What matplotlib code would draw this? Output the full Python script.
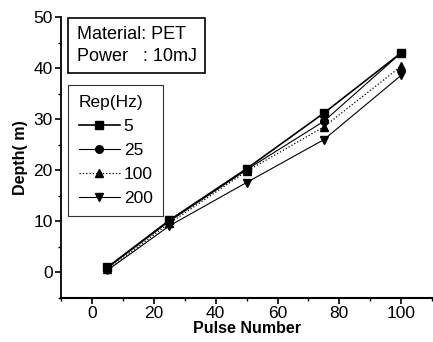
import matplotlib
matplotlib.use("Agg")
import matplotlib.pyplot as plt
from matplotlib.ticker import MultipleLocator

plt.rcParams['font.family'] = ['Liberation Sans', 'DejaVu Sans']

pulses = [5, 25, 50, 75, 100]
rep_labels = ["5", "25", "100", "200"]
depth_5 = [1.0, 10.2, 20.3, 31.2, 43.0]
depth_25 = [0.9, 10.0, 20.1, 29.6, 43.0]
depth_100 = [0.6, 9.6, 19.8, 28.5, 40.4]
depth_200 = [0.4, 9.1, 17.6, 26.0, 38.6]

series = [depth_5, depth_25, depth_100, depth_200]
markers = ["s", "o", "^", "v"]
styles = ["-", "-", ":", "-"]
widths = [1.2, 0.8, 0.9, 0.8]

fig = plt.figure(figsize=(4.33, 3.42), dpi=100)
ax = fig.add_axes([0.141, 0.129, 0.857, 0.821])

for vals, lab, m, ls, lw in zip(series, rep_labels, markers, styles, widths):
    ax.plot(pulses, vals, color="black", marker=m, markersize=5.5,
            linestyle=ls, linewidth=lw, label=lab)

ax.set_xlim(-10, 110)
ax.set_ylim(-5, 50)
ax.xaxis.set_major_locator(MultipleLocator(20))
ax.xaxis.set_minor_locator(MultipleLocator(10))
ax.yaxis.set_major_locator(MultipleLocator(10))
ax.yaxis.set_minor_locator(MultipleLocator(5))

ax.spines['top'].set_visible(False)
ax.spines['right'].set_visible(False)
ax.spines['left'].set_linewidth(1.3)
ax.spines['bottom'].set_linewidth(1.5)
ax.tick_params(which='major', direction='out', length=4, width=1.2,
               labelsize=12.5, pad=2)
ax.tick_params(which='minor', direction='out', length=2, width=1)

ax.set_xlabel("Pulse Number", fontweight="bold", fontsize=11.5, labelpad=0)
ax.set_ylabel("Depth( m)", fontweight="bold", fontsize=11.5, labelpad=4)

ax.text(-5, 48.2, "Material: PET\nPower   : 10mJ", fontsize=13,
        va="top", ha="left", linespacing=1.35,
        bbox=dict(boxstyle="square,pad=0.45", facecolor="white",
                  edgecolor="black", linewidth=1.2))

leg = ax.legend(title="Rep(Hz)", loc="upper left", bbox_to_anchor=(0.019, 0.758),
                fontsize=12.5, title_fontsize=12.5, frameon=True, fancybox=False,
                edgecolor="black", handlelength=2.4, labelspacing=0.5,
                borderpad=0.6, handletextpad=0.2, borderaxespad=0)
leg.get_frame().set_linewidth(0.8)
leg._legend_box.align = "left"

fig.savefig("out.png", dpi=100)
